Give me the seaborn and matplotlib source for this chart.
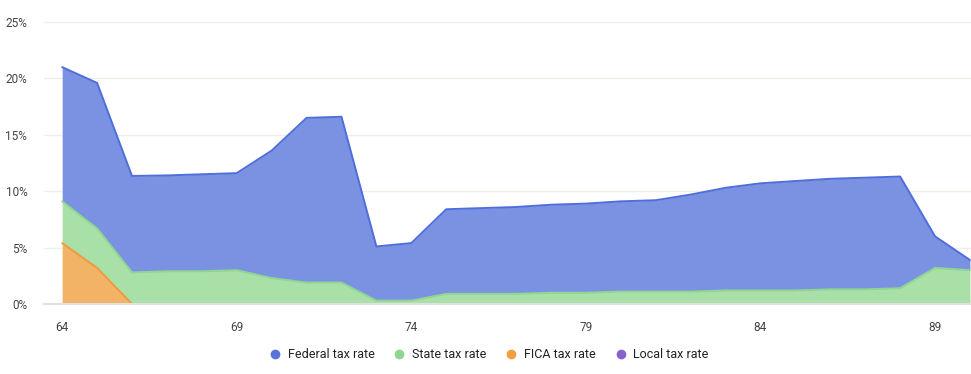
import numpy as np
import pandas as pd
import matplotlib.pyplot as plt
import seaborn as sns
from matplotlib.lines import Line2D
from matplotlib.ticker import FuncFormatter

ages = list(range(64, 91))
federal = [11.9, 12.9, 8.55, 8.5, 8.6, 8.6, 11.3, 14.6, 14.7, 4.8, 5.1, 7.5, 7.6, 7.7,
           7.8, 7.9, 8.0, 8.1, 8.6, 9.1, 9.5, 9.7, 9.8, 9.9, 9.9, 2.8, 0.9]
state = [3.7, 3.5, 2.8, 2.9, 2.9, 3.0, 2.3, 1.9, 1.9, 0.3, 0.3, 0.9, 0.9, 0.9,
         1.0, 1.0, 1.1, 1.1, 1.1, 1.2, 1.2, 1.2, 1.3, 1.3, 1.4, 3.2, 3.0]
fica = [5.4, 3.2] + [0.0] * 25
local = [0.0] * 27

series = ['Local tax rate', 'FICA tax rate', 'State tax rate', 'Federal tax rate']
values = [local, fica, state, federal]
fills = ['#9d82d6', '#f2b366', '#a8e0a8', '#7b92e2']
edges = ['#8a63c9', '#f09a3e', '#8fd68f', '#4f6edb']

sns.set_theme(style='white')
plt.rcParams['font.family'] = ['Roboto', 'DejaVu Sans']

fig = plt.figure(figsize=(9.71, 3.74), dpi=100)
ax = fig.add_axes([44 / 971, 1 - 304 / 374, 1 - 44 / 971, (304 - 22) / 374])

df = pd.DataFrame(dict(zip(series, values)), index=ages)
ax.stackplot(df.index, *[df[s] for s in series], colors=fills, linewidth=0)

# outline each layer at its stacked top
cum = df[series].cumsum(axis=1)
for s, c in zip(series, edges):
    sns.lineplot(x=cum.index, y=cum[s], ax=ax, color=c, linewidth=1.4, legend=False)

ax.set_xlim(63.48, 90.03)
ax.set_ylim(0, 25)
ax.set_yticks([0, 5, 10, 15, 20, 25])
ax.set_xticks([64, 69, 74, 79, 84, 89])
ax.yaxis.set_major_formatter(FuncFormatter(lambda v, _: f'{v:.0f}%'))
ax.grid(axis='y', color='#efefea', linewidth=1)
ax.set_axisbelow(True)
ax.set_xlabel('')
ax.set_ylabel('')
for side in ['top', 'right', 'left']:
    ax.spines[side].set_visible(False)
ax.spines['bottom'].set_color('#e0e0dc')
ax.spines['bottom'].set_linewidth(1.5)
ax.tick_params(axis='both', length=0, labelsize=8.5, colors='#444444')
ax.tick_params(axis='y', pad=12)
ax.tick_params(axis='x', pad=12)

handles = [Line2D([], [], marker='o', linestyle='', markersize=6,
                  markerfacecolor=c, markeredgecolor=c) for c in
           ['#5b73dd', '#8fd68f', '#f0a040', '#8a63c9']]
labels = ['Federal tax rate', 'State tax rate', 'FICA tax rate', 'Local tax rate']
fig.legend(handles, labels, loc='center', bbox_to_anchor=(0.5, 1 - 355 / 374), ncol=4,
           frameon=False, fontsize=9, handletextpad=0.0, columnspacing=1.0,
           labelcolor='#222222')

fig.savefig('out.png', dpi=100)
